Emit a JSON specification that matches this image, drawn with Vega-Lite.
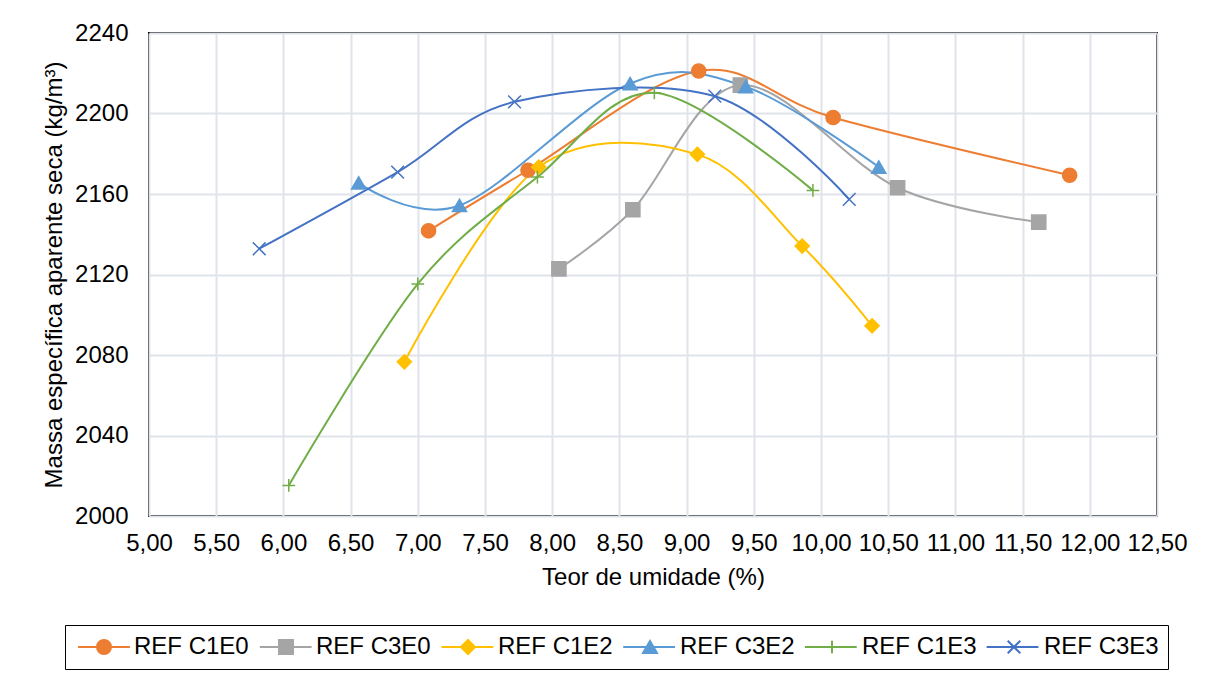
{
  "$schema": "https://vega.github.io/schema/vega-lite/v6.json",
  "width": 1008,
  "height": 483,
  "autosize": "none",
  "padding": {"left": 149, "top": 33, "right": 59, "bottom": 168},
  "background": "white",
  "config": {
    "locale": {"number": {"decimal": ",", "thousands": ".", "grouping": [3], "currency": ["", ""]}},
    "font": "Liberation Sans",
    "view": {"stroke": "#000000", "strokeWidth": 2},
    "axis": {
      "gridColor": "#DFE3EA",
      "gridWidth": 2,
      "domain": false,
      "ticks": false,
      "labelOverlap": false,
      "labelFlush": false,
      "labelColor": "#000000",
      "titleColor": "#000000",
      "labelFont": "Liberation Sans",
      "titleFont": "Liberation Sans",
      "labelFontSize": 24,
      "titleFontSize": 24,
      "titleFontWeight": "normal"
    },
    "legend": {
      "title": null,
      "orient": "none",
      "direction": "horizontal",
      "legendX": -84,
      "legendY": 592,
      "padding": 9,
      "clipHeight": 26,
      "symbolSize": 196,
      "symbolStrokeWidth": 2,
      "symbolOffset": 18,
      "labelFont": "Liberation Sans",
      "labelFontSize": 24,
      "labelColor": "#000000"
    }
  },
  "data": {
    "values": [
      {"Series": "REF C1E0", "Teor": 7.08, "Massa": 2141.7},
      {"Series": "REF C1E0", "Teor": 7.82, "Massa": 2171.8},
      {"Series": "REF C1E0", "Teor": 9.09, "Massa": 2221.1},
      {"Series": "REF C1E0", "Teor": 10.09, "Massa": 2198.0},
      {"Series": "REF C1E0", "Teor": 11.85, "Massa": 2169.3},
      {"Series": "REF C3E0", "Teor": 8.05, "Massa": 2122.8},
      {"Series": "REF C3E0", "Teor": 8.60, "Massa": 2152.2},
      {"Series": "REF C3E0", "Teor": 9.40, "Massa": 2214.1},
      {"Series": "REF C3E0", "Teor": 10.57, "Massa": 2163.1},
      {"Series": "REF C3E0", "Teor": 11.62, "Massa": 2146.0},
      {"Series": "REF C1E2", "Teor": 6.90, "Massa": 2076.6},
      {"Series": "REF C1E2", "Teor": 7.90, "Massa": 2173.4},
      {"Series": "REF C1E2", "Teor": 9.08, "Massa": 2179.7},
      {"Series": "REF C1E2", "Teor": 9.86, "Massa": 2134.1},
      {"Series": "REF C1E2", "Teor": 10.38, "Massa": 2094.5},
      {"Series": "REF C3E2", "Teor": 6.56, "Massa": 2165.5},
      {"Series": "REF C3E2", "Teor": 7.31, "Massa": 2154.3},
      {"Series": "REF C3E2", "Teor": 8.58, "Massa": 2214.9},
      {"Series": "REF C3E2", "Teor": 9.44, "Massa": 2213.3},
      {"Series": "REF C3E2", "Teor": 10.43, "Massa": 2173.4},
      {"Series": "REF C1E3", "Teor": 6.04, "Massa": 2015.2},
      {"Series": "REF C1E3", "Teor": 7.00, "Massa": 2115.3},
      {"Series": "REF C1E3", "Teor": 7.89, "Massa": 2168.4},
      {"Series": "REF C1E3", "Teor": 8.76, "Massa": 2210.3},
      {"Series": "REF C1E3", "Teor": 9.94, "Massa": 2161.8},
      {"Series": "REF C3E3", "Teor": 5.82, "Massa": 2132.8},
      {"Series": "REF C3E3", "Teor": 6.85, "Massa": 2170.9},
      {"Series": "REF C3E3", "Teor": 7.72, "Massa": 2205.8},
      {"Series": "REF C3E3", "Teor": 9.21, "Massa": 2208.6},
      {"Series": "REF C3E3", "Teor": 10.21, "Massa": 2157.3}
    ]
  },
  "encoding": {
    "x": {
      "field": "Teor",
      "type": "quantitative",
      "scale": {"domain": [5, 12.5], "nice": false, "zero": false},
      "axis": {
        "values": [5, 5.5, 6, 6.5, 7, 7.5, 8, 8.5, 9, 9.5, 10, 10.5, 11, 11.5, 12, 12.5],
        "format": ".2f",
        "title": "Teor de umidade (%)",
        "labelPadding": 15,
        "titlePadding": 10
      }
    },
    "y": {
      "field": "Massa",
      "type": "quantitative",
      "scale": {"domain": [2000, 2240], "nice": false, "zero": false},
      "axis": {
        "values": [2000, 2040, 2080, 2120, 2160, 2200, 2240],
        "format": "d",
        "title": "Massa específica aparente seca (kg/m³)",
        "labelPadding": 21,
        "titlePadding": 8
      }
    }
  },
  "layer": [
    {
      "mark": {"type": "line", "interpolate": "cardinal", "strokeWidth": 2},
      "encoding": {
        "color": {
          "field": "Series",
          "type": "nominal",
          "scale": {
            "domain": ["REF C1E0", "REF C3E0", "REF C1E2", "REF C3E2", "REF C1E3", "REF C3E3", " "],
            "range": ["#ED7D31", "#A5A5A5", "#FFC000", "#5B9BD5", "#70AD47", "#4472C4", "rgba(0,0,0,0)"]
          },
          "legend": {
            "columnPadding": 103.7,
            "labelOffset": 36,
            "labelExpr": "''",
            "strokeColor": null,
            "fillColor": null,
            "symbolType": "M-3.7,0H3.7"
          }
        }
      }
    },
    {
      "mark": {"type": "point", "filled": true, "size": 200, "strokeWidth": 1.5, "opacity": 1},
      "encoding": {
        "fill": {
          "field": "Series",
          "type": "nominal",
          "scale": {
            "domain": ["REF C1E0", "REF C3E0", "REF C1E2", "REF C3E2", "REF C1E3", "REF C3E3"],
            "range": ["#ED7D31", "#A5A5A5", "#FFC000", "#5B9BD5", "#70AD47", "#4472C4"]
          },
          "legend": {
            "columnPadding": 7,
            "labelOffset": 18,
            "strokeColor": "#000000",
            "fillColor": null
          }
        },
        "stroke": {
          "field": "Series",
          "type": "nominal",
          "scale": {
            "domain": ["REF C1E0", "REF C3E0", "REF C1E2", "REF C3E2", "REF C1E3", "REF C3E3"],
            "range": ["#ED7D31", "#A5A5A5", "#FFC000", "#5B9BD5", "#70AD47", "#4472C4"]
          }
        },
        "shape": {
          "field": "Series",
          "type": "nominal",
          "scale": {
            "domain": ["REF C1E0", "REF C3E0", "REF C1E2", "REF C3E2", "REF C1E3", "REF C3E3"],
            "range": ["circle", "square", "diamond", "triangle-up", "M-0.9,0H0.9M0,-0.9V0.9", "M-0.9,-0.9L0.9,0.9M-0.9,0.9L0.9,-0.9"]
          }
        }
      }
    }
  ]
}
